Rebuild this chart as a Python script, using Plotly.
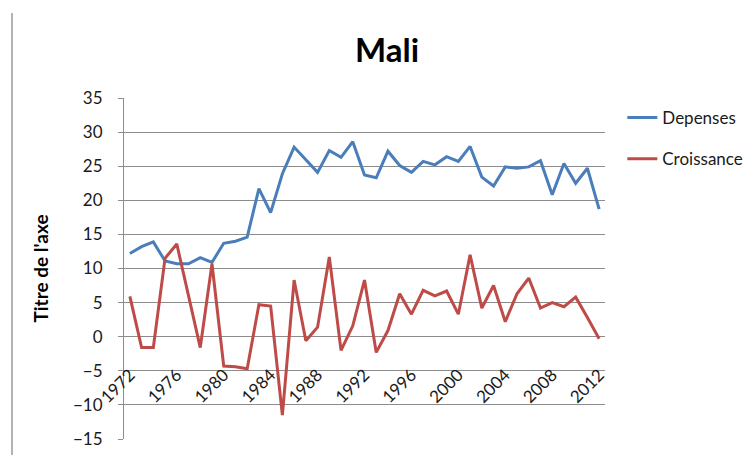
import plotly.graph_objects as go

years = list(range(1972, 2013))
depenses = [12.2, 13.2, 13.9, 11.1, 10.7, 10.7, 11.6, 10.9, 13.7, 14.0,
            14.6, 21.7, 18.2, 23.9, 27.8, 25.9, 24.1, 27.3, 26.3, 28.6,
            23.7, 23.3, 27.2, 25.1, 24.1, 25.7, 25.2, 26.4, 25.7, 27.9,
            23.4, 22.1, 24.9, 24.7, 24.9, 25.8, 20.8, 25.4, 22.5, 24.7, 18.7]
croissance = [5.9, -1.6, -1.6, 11.5, 13.6, 6.0, -1.6, 10.7, -4.3, -4.4,
              -4.7, 4.7, 4.5, -11.5, 8.3, -0.6, 1.4, 11.7, -2.0, 1.6,
              8.3, -2.3, 0.9, 6.3, 3.3, 6.8, 6.0, 6.7, 3.3, 12.0,
              4.2, 7.5, 2.2, 6.3, 8.6, 4.2, 5.0, 4.4, 5.8, 2.8, -0.3]
tick_years = list(range(1972, 2013, 4))
y_ticks = list(range(-15, 40, 5))

FONT = "Lato"
TXT = "#1a1a1a"
# page has an 8px body margin; figure is sized to fill the rest of the window
W, H = 743, 447
L, T, R, B = 116, 90, 146, 16
PW, PH = W - L - R, H - T - B

fig = go.Figure()
fig.add_trace(go.Scatter(x=years, y=depenses, mode="lines", name="Depenses",
                         line=dict(color="#4A7EBB", width=3), legendgroup="a"))
fig.add_trace(go.Scatter(x=years, y=croissance, mode="lines", name="Croissance",
                         line=dict(color="#BE4B48", width=3), legendgroup="b"))

fig.update_layout(
    width=W, height=H,
    margin=dict(l=L, r=R, t=T, b=B, autoexpand=False),
    paper_bgcolor="white", plot_bgcolor="white",
    font=dict(family=FONT, size=17, color=TXT),
    title=dict(text="<b>Mali</b>", x=379/W, xref="container", xanchor="center",
               y=1-42/H, yref="container", yanchor="middle",
               font=dict(family=FONT, size=33, color="black")),
    showlegend=True,
    legend=dict(x=1.036, y=0.994, xanchor="left", yanchor="top",
                font=dict(family=FONT, size=17, color=TXT),
                tracegroupgap=16, bgcolor="rgba(0,0,0,0)"),
    xaxis=dict(range=[1971.5, 2012.5], tickvals=tick_years,
               ticktext=[str(t) for t in tick_years], tickangle=-45,
               showgrid=False, zeroline=False, showline=False, ticks="",
               anchor="free", position=0.3, automargin=False,
               ticklabelstandoff=24,
               tickfont=dict(family=FONT, size=17, color=TXT)),
    yaxis=dict(range=[-15, 35], tickvals=y_ticks, showgrid=True,
               gridcolor="#8c8c8c", gridwidth=1, zeroline=False,
               showline=True, linecolor="#8c8c8c", linewidth=1,
               ticks="outside", ticklen=5, tickcolor="#8c8c8c",
               ticklabelstandoff=12, automargin=False,
               tickfont=dict(family=FONT, size=17, color=TXT),
               title=dict(text="<b>Titre de l'axe</b>", standoff=19,
                          font=dict(family=FONT, size=19, color="black"))),
    shapes=[dict(type="line", xref="paper", yref="paper",
                 x0=(4-L)/PW, x1=(4-L)/PW,
                 y0=1+(T-5)/PH, y1=-B/PH,
                 line=dict(color="#9a9a9a", width=1.5))],
)
fig.write_html("out.html")
